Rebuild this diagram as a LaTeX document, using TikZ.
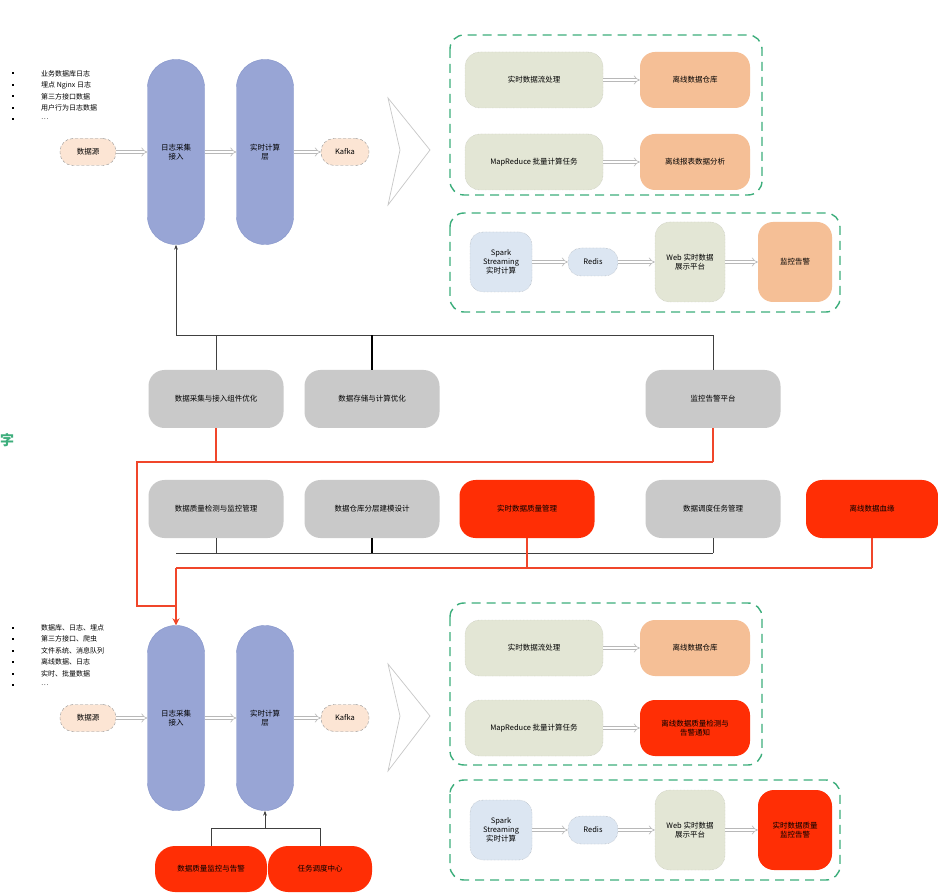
\documentclass[tikz,border=0pt]{standalone}
\usepackage{fontspec}
\setmainfont{Noto Sans CJK SC}
\usetikzlibrary{arrows.meta}
\definecolor{capfill}{HTML}{98A5D5}
\definecolor{capline}{HTML}{8393C9}
\definecolor{greyfill}{HTML}{C9C9C9}
\definecolor{hotred}{HTML}{FF2E05}
\definecolor{orangefill}{HTML}{F5BF96}
\definecolor{sagefill}{HTML}{E3E6D5}
\definecolor{skyfill}{HTML}{DCE6F2}
\definecolor{peachfill}{HTML}{FCE5D4}
\definecolor{boxgreen}{HTML}{3DAE7C}
\definecolor{arrowgrey}{HTML}{B8B8B8}
\definecolor{linkred}{HTML}{F0462A}
\begin{document}
\begin{tikzpicture}[x=1pt,y=-1pt,
  every node/.style={font=\fontsize{7.5}{9}\selectfont, align=center, inner sep=1pt},
  capsule/.style={draw=capline, fill=capfill, rounded corners=28pt, minimum width=57pt, minimum height=185pt},
  pill/.style={draw=arrowgrey!80!black, densely dashed, fill=peachfill, rounded corners=13pt, minimum width=#1, minimum height=27pt},
  greybox/.style={fill=greyfill, rounded corners=16pt, minimum width=135pt, minimum height=58pt},
  redbox/.style={fill=hotred, rounded corners=16pt, minimum width=#1, minimum height=58pt},
  sagebox/.style={fill=sagefill, draw=sagefill!80!black, densely dotted, rounded corners=15pt, minimum width=#1, minimum height=56pt},
  orangebox/.style={fill=orangefill, rounded corners=15pt, minimum width=110pt, minimum height=56pt},
  skybox/.style={fill=skyfill, draw=skyfill!70!black, densely dotted, rounded corners=13pt, minimum width=#1},
  group/.style={draw=boxgreen, line width=1.4pt, dash pattern=on 9pt off 6pt, rounded corners=14pt},
  hollow/.style={draw=arrowgrey, double=white, double distance=2.6pt, line width=0.6pt, -{Implies[length=4pt]}},
  bus/.style={draw=black!75, line width=0.7pt},
  thickbus/.style={draw=black, line width=1.4pt},
  redline/.style={draw=linkred, line width=1.6pt},
  bullet/.style={fill=black, minimum size=2pt, inner sep=0pt},
  listtext/.style={anchor=west, font=\fontsize{7}{8}\selectfont},
  fan/.style={draw=black!22, fill=white, line width=0.7pt}
]
\useasboundingbox (0,0) rectangle (938,893);
\fill[white] (0,0) rectangle (938,893);

% ---------- upper pipeline ----------
\foreach \t [count=\i] in {业务数据库日志,埋点 Nginx 日志,第三方接口数据,用户行为日志数据,…}{
  \node[bullet] (ub\i) at (13,{62+11.5*\i}) {};
  \node[listtext] (ut\i) at (40,{62+11.5*\i}) {\t};
}
\node[pill=56pt] (src1) at (88,152) {数据源};
\node[capsule] (cap1) at (176,152) {日志采集\\接入};
\node[capsule] (cap2) at (265,152) {实时计算\\层};
\node[pill=48pt] (kf1) at (345,152) {Kafka};
\draw[fan] (388,98) -- (430,150) -- (388,205) -- (400,150) -- cycle;
\draw[hollow] (src1) -- (cap1);
\draw[hollow] (cap1) -- (cap2);
\draw[hollow] (cap2) -- (kf1);

\draw[group] (450,35) rectangle (762,195);
\node[sagebox=138pt] (n11) at (534,80) {实时数据流处理};
\node[orangebox] (n12) at (695,80) {离线数据仓库};
\node[sagebox=138pt] (n21) at (534,162) {MapReduce 批量计算任务};
\node[orangebox] (n22) at (695,162) {离线报表数据分析};
\draw[hollow] (n11) -- (n12);
\draw[hollow] (n21) -- (n22);

\draw[group] (450,213) rectangle (840,312);
\node[skybox=62pt, minimum height=60pt] (b1) at (501,262) {Spark\\Streaming\\实时计算};
\node[skybox=50pt, minimum height=28pt] (b2) at (593,262) {Redis};
\node[sagebox=70pt, minimum height=80pt] (b3) at (690,262) {Web 实时数据\\展示平台};
\node[orangebox, minimum width=74pt, minimum height=80pt] (b4) at (795,262) {监控告警};
\draw[hollow] (b1) -- (b2);
\draw[hollow] (b2) -- (b3);
\draw[hollow] (b3) -- (b4);

% ---------- shared components ----------
\node[text=boxgreen, font=\fontsize{14}{15}\bfseries\selectfont, anchor=west, inner sep=0pt] (side) at (0,440) {字};

\node[greybox] (g1) at (216,399) {数据采集与接入组件优化};
\node[greybox] (g2) at (372,399) {数据存储与计算优化};
\node[greybox] (g3) at (713,399) {监控告警平台};
\node[greybox] (g4) at (216,509) {数据质量检测与监控管理};
\node[greybox] (g5) at (372,509) {数据仓库分层建模设计};
\node[redbox=135pt] (r1) at (527,509) {实时数据质量管理};
\node[greybox] (g6) at (713,509) {数据调度任务管理};
\node[redbox=132pt] (r2) at (872,509) {离线数据血缘};

\coordinate (busL) at (176,335);
\coordinate (busR) at (713,335);
\draw[bus, -{Stealth[length=5pt]}] (busL) -- (cap1.south);
\draw[bus] (busL) -- (busR);
\draw[bus] (g1.north) -- (g1.north |- busL);
\draw[thickbus] (g2.north) -- (g2.north |- busL);
\draw[bus] (g3.north) -- (busR);

\coordinate (bus2L) at (176,553);
\coordinate (bus2R) at (713,553);
\draw[bus] (bus2L) -- (bus2R);
\draw[bus] (g4.south) -- (g4.south |- bus2L);
\draw[thickbus] (g5.south) -- (g5.south |- bus2L);
\draw[bus] (g6.south) -- (bus2R);

% red feedback links
\coordinate (redA) at (137,462);
\coordinate (redB) at (713,462);
\coordinate (redC) at (137,606);
\coordinate (redD) at (176,606);
\draw[redline] (g1.south) -- (g1.south |- redA);
\draw[redline] (g3.south) -- (redB);
\draw[redline] (redB) -- (redA) -- (redC) -- (redD);
\coordinate (red2L) at (176,568);
\coordinate (red2R) at (872,568);
\draw[redline] (red2L) -- (red2R);
\draw[redline] (r1.south) -- (r1.south |- red2L);
\draw[redline] (r2.south) -- (red2R);

% ---------- lower pipeline ----------
\foreach \t [count=\i] in {数据库、日志、埋点,第三方接口、爬虫,文件系统、消息队列,离线数据、日志,实时、批量数据,…}{
  \node[bullet] (lb\i) at (13,{616+11.5*\i}) {};
  \node[listtext] (lt\i) at (40,{616+11.5*\i}) {\t};
}
\node[pill=56pt] (src2) at (88,718) {数据源};
\node[capsule] (cap3) at (176,718) {日志采集\\接入};
\node[capsule] (cap4) at (265,718) {实时计算\\层};
\node[pill=48pt] (kf2) at (345,718) {Kafka};
\draw[fan] (388,664) -- (430,716) -- (388,771) -- (400,716) -- cycle;
\draw[hollow] (src2) -- (cap3);
\draw[hollow] (cap3) -- (cap4);
\draw[hollow] (cap4) -- (kf2);
\draw[redline, -{Stealth[length=7pt,width=7pt]}] (red2L) -- (cap3.north);

\draw[group] (450,603) rectangle (762,765);
\node[sagebox=138pt] (n31) at (534,648) {实时数据流处理};
\node[orangebox] (n32) at (695,648) {离线数据仓库};
\node[sagebox=138pt] (n41) at (534,728) {MapReduce 批量计算任务};
\node[redbox=110pt, minimum height=56pt, rounded corners=15pt] (n42) at (695,728) {离线数据质量检测与\\告警通知};
\draw[hollow] (n31) -- (n32);
\draw[hollow] (n41) -- (n42);

\draw[group] (450,780) rectangle (840,880);
\node[skybox=62pt, minimum height=60pt] (b5) at (501,830) {Spark\\Streaming\\实时计算};
\node[skybox=50pt, minimum height=28pt] (b6) at (593,830) {Redis};
\node[sagebox=70pt, minimum height=80pt] (b7) at (690,830) {Web 实时数据\\展示平台};
\node[redbox=74pt, minimum height=80pt] (b8) at (795,830) {实时数据质量\\监控告警};
\draw[hollow] (b5) -- (b6);
\draw[hollow] (b6) -- (b7);
\draw[hollow] (b7) -- (b8);

\node[redbox=112pt, minimum height=46pt, rounded corners=20pt] (r3) at (211,869) {数据质量监控与告警};
\node[redbox=104pt, minimum height=46pt, rounded corners=20pt] (r4) at (320,869) {任务调度中心};
\coordinate (bus3) at (265,828);
\draw[bus, -{Stealth[length=5pt]}] (bus3) -- (cap4.south);
\draw[bus] (r3.north) -- (r3.north |- bus3) -- (r4.north |- bus3) -- (r4.north);
\end{tikzpicture}
\end{document}
